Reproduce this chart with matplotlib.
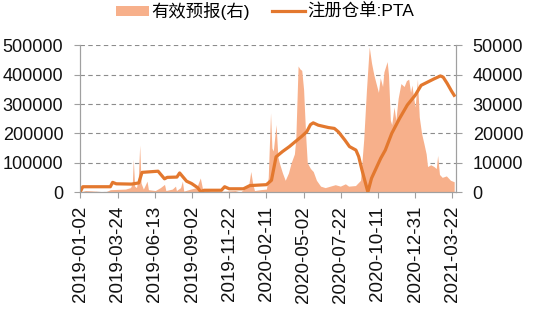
import matplotlib
matplotlib.use('Agg')
import matplotlib.pyplot as plt
import matplotlib.dates as mdates
from matplotlib.patches import Patch
from matplotlib.lines import Line2D
import pandas as pd

plt.rcParams['font.family'] = ['Liberation Sans', 'Noto Sans CJK SC', 'DejaVu Sans']

# 注册仓单:PTA (left axis)
line_dates = ['2019-01-02', '2019-01-07', '2019-03-08', '2019-03-13', '2019-03-21',
              '2019-04-23', '2019-05-09', '2019-05-16', '2019-06-20', '2019-07-04',
              '2019-07-10', '2019-07-31', '2019-08-06', '2019-08-21', '2019-09-01',
              '2019-09-14', '2019-09-21', '2019-09-28', '2019-11-05', '2019-11-12',
              '2019-11-22', '2019-12-23', '2020-01-06', '2020-02-11', '2020-02-22',
              '2020-03-03', '2020-03-17', '2020-04-01', '2020-04-14', '2020-04-28',
              '2020-05-09', '2020-05-17', '2020-05-23', '2020-06-03', '2020-06-25',
              '2020-07-08', '2020-07-17', '2020-07-31', '2020-08-10', '2020-08-24',
              '2020-08-30', '2020-09-06', '2020-09-19', '2020-09-27', '2020-10-07',
              '2020-10-17', '2020-10-27', '2020-11-10', '2020-11-27', '2020-12-14',
              '2020-12-31', '2021-01-13', '2021-01-27', '2021-02-10', '2021-02-24',
              '2021-03-02', '2021-03-11', '2021-03-20', '2021-03-26']
line_values = [2000, 18000, 18000, 33000, 28000,
               27000, 31000, 67000, 71000, 45000,
               50000, 51000, 65000, 37000, 29000,
               15000, 1000, 6000, 6000, 18000,
               11000, 11000, 22000, 25000, 40000,
               120000, 138000, 155000, 172000, 190000,
               206000, 230000, 236000, 228000, 220000,
               217000, 205000, 177000, 155000, 143000,
               121000, 76000, 0, 47000, 81000,
               115000, 143000, 200000, 251000, 297000,
               330000, 364000, 375000, 386000, 396000,
               392000, 370000, 345000, 330000]

# 有效预报 (right axis)
area_dates = ['2019-01-02', '2019-01-13', '2019-02-04', '2019-02-25', '2019-03-08',
              '2019-04-10', '2019-04-21', '2019-04-25', '2019-04-27', '2019-04-30',
              '2019-05-04', '2019-05-08', '2019-05-11', '2019-05-14', '2019-05-19',
              '2019-05-27', '2019-05-30', '2019-06-14', '2019-06-25', '2019-07-04',
              '2019-07-07', '2019-07-21', '2019-07-28', '2019-07-30', '2019-08-08',
              '2019-08-12', '2019-08-15', '2019-08-30', '2019-09-12', '2019-09-20',
              '2019-09-25', '2019-10-12', '2019-11-03', '2019-12-05', '2019-12-16',
              '2020-01-03', '2020-01-08', '2020-01-12', '2020-01-16', '2020-01-29',
              '2020-02-11', '2020-02-15', '2020-02-20', '2020-02-23', '2020-02-26',
              '2020-03-03', '2020-03-07', '2020-03-10', '2020-03-17', '2020-03-23',
              '2020-03-30', '2020-04-05', '2020-04-12', '2020-04-15', '2020-04-20',
              '2020-04-24', '2020-04-28', '2020-05-02', '2020-05-04', '2020-05-07',
              '2020-05-10', '2020-05-17', '2020-05-23', '2020-05-30', '2020-06-08',
              '2020-06-18', '2020-06-29', '2020-07-10', '2020-07-21', '2020-08-01',
              '2020-08-08', '2020-08-23', '2020-09-03', '2020-09-10', '2020-09-16',
              '2020-09-22', '2020-09-27', '2020-10-02', '2020-10-07', '2020-10-12',
              '2020-10-16', '2020-10-21', '2020-10-24', '2020-10-31', '2020-11-03',
              '2020-11-07', '2020-11-10', '2020-11-15', '2020-11-19', '2020-11-24',
              '2020-11-30', '2020-12-07', '2020-12-12', '2020-12-17', '2020-12-21',
              '2020-12-24', '2020-12-28', '2020-12-31', '2021-01-05', '2021-01-09',
              '2021-01-14', '2021-01-19', '2021-01-24', '2021-01-27', '2021-02-03',
              '2021-02-10', '2021-02-15', '2021-02-18', '2021-02-22', '2021-02-28',
              '2021-03-09', '2021-03-18', '2021-03-26']
area_values = [0, 500, 300, 0, 800,
               1000, 1500, 3000, 11200, 2000,
               1500, 5000, 16000, 3000, 1000,
               3700, 800, 500, 1500, 2600,
               500, 1000, 2000, 500, 1500,
               3700, 300, 1000, 1500, 4800,
               1000, 300, 200, 500, 0,
               2000, 7000, 3000, 500, 800,
               1000, 5000, 27000, 15000, 14000,
               23000, 12000, 10000, 6500, 4000,
               6500, 10000, 13000, 18000, 43000,
               42000, 41500, 35000, 28000, 18000,
               10000, 8000, 7000, 4000, 2000,
               1500, 2000, 2500, 2000, 2800,
               2000, 2200, 4000, 18000, 35000,
               49500, 44000, 40000, 37000, 34000,
               39000, 36000, 41000, 44500, 40000,
               24500, 23000, 29000, 24500, 32000,
               37000, 36000, 38000, 38500, 34000,
               36500, 32000, 29000, 38500, 25600,
               20000, 16600, 13000, 8700, 9300,
               8700, 8000, 12500, 6000, 5000,
               5500, 4000, 3500]

tick_dates = ['2019-01-02', '2019-03-24', '2019-06-13', '2019-09-02', '2019-11-22',
              '2020-02-11', '2020-05-02', '2020-07-22', '2020-10-11', '2020-12-31',
              '2021-03-22']

line_x = pd.to_datetime(line_dates)
area_x = pd.to_datetime(area_dates)
ticks_x = pd.to_datetime(tick_dates)

area_color = '#F7B08B'
line_color = '#E3782E'
axis_gray = '#A0A0A0'

fig = plt.figure(figsize=(5.5, 3.09), dpi=100)
ax = fig.add_axes([0.1455, 0.3786, 0.6836, 0.4742])
ax2 = ax.twinx()

ax2.fill_between(area_x, area_values, 0, color=area_color, lw=0)
ax.plot(line_x, line_values, color=line_color, lw=2.3, solid_joinstyle='round')

ax.set_zorder(ax2.get_zorder() + 1)
ax.patch.set_visible(False)

ax.set_ylim(0, 500000)
ax2.set_ylim(0, 50000)
ax.set_yticks(range(0, 500001, 100000))
ax2.set_yticks(range(0, 50001, 10000))
ax.set_xlim(pd.Timestamp('2019-01-01'), pd.Timestamp('2021-03-30'))
ax.set_xticks(ticks_x)
ax.set_xticklabels([d.strftime('%Y-%m-%d') for d in ticks_x], rotation=90)

ax2.set_axisbelow(True)
ax2.grid(axis='y', color='#8C8C8C', ls=(0, (4, 3)), lw=0.8)

for a in (ax, ax2):
    a.spines['top'].set_visible(False)
    for s in ('left', 'right', 'bottom'):
        a.spines[s].set_color(axis_gray)
        a.spines[s].set_linewidth(0.8)
    a.tick_params(colors=axis_gray, labelcolor='#111111', labelsize=13, length=4, width=0.8)

ax.tick_params(axis='y', pad=8)
ax2.tick_params(axis='y', pad=8)
ax.tick_params(axis='x', pad=6, labelsize=13.5)

handles = [Patch(facecolor=area_color, edgecolor='none'),
           Line2D([0], [0], color=line_color, lw=2.3)]
fig.legend(handles, ['有效预报(右)', '注册仓单:PTA'], loc='center',
           bbox_to_anchor=(265 / 550, 1 - 11 / 309), ncol=2, frameon=False,
           prop={'family': ['Liberation Sans', 'Noto Sans CJK SC'], 'size': 12.5},
           handlelength=1.9, handleheight=0.5, handletextpad=0.1, columnspacing=1.3)

fig.savefig('out.png', dpi=100)
